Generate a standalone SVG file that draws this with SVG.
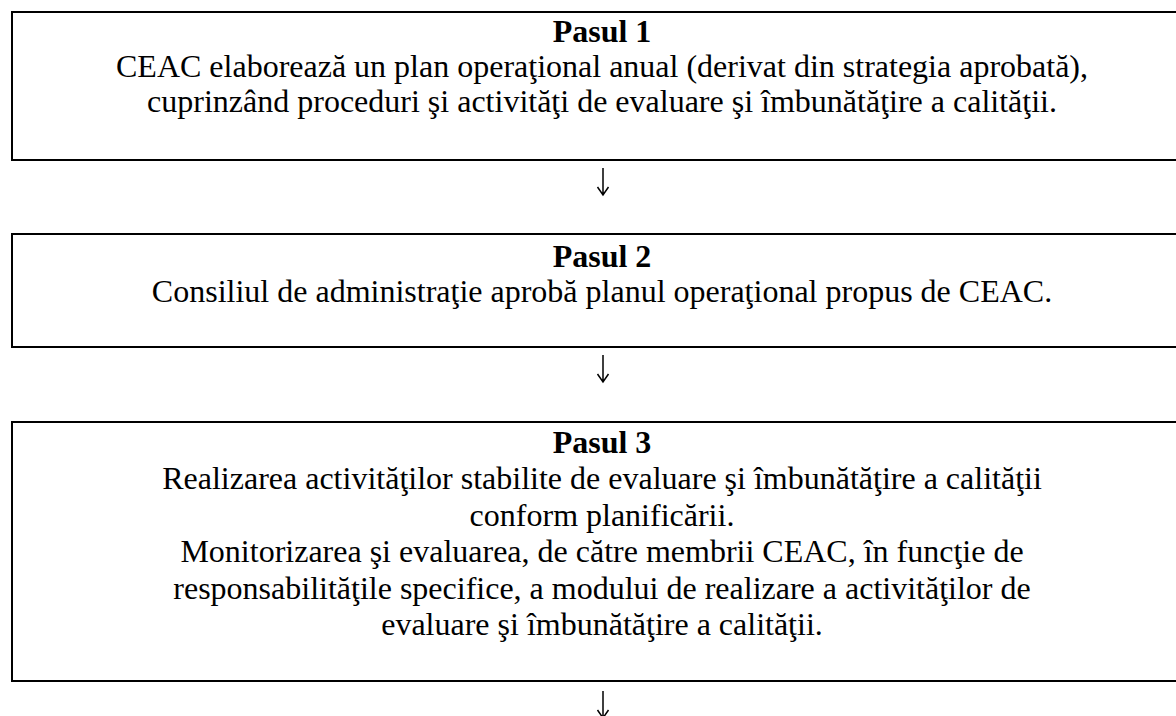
<svg xmlns="http://www.w3.org/2000/svg" width="1176" height="716" viewBox="0 0 1176 716">
<style>
.box{fill:#fff;stroke:#000;stroke-width:2}
text{font-family:"Liberation Serif","Times New Roman",serif;font-size:32px;fill:#000;text-anchor:middle}
.t{font-weight:bold}
.arr{fill:none;stroke:#000;stroke-width:1.5}
</style>
<rect width="1176" height="716" fill="#fff"/>
<g id="step1">
<rect class="box" x="12" y="12" width="1180" height="148"/>
<text class="t" x="602" y="42">Pasul 1</text>
<text x="602" y="77">CEAC elaborează un plan operaţional anual (derivat din strategia aprobată),</text>
<text x="602" y="112">cuprinzând proceduri şi activităţi de evaluare şi îmbunătăţire a calităţii.</text>
</g>
<g id="step2">
<rect class="box" x="12" y="234" width="1180" height="113"/>
<text class="t" x="602" y="267">Pasul 2</text>
<text x="602" y="302">Consiliul de administraţie aprobă planul operaţional propus de CEAC.</text>
</g>
<g id="step3">
<rect class="box" x="12" y="422" width="1180" height="259"/>
<text class="t" x="602" y="453">Pasul 3</text>
<text x="602" y="489">Realizarea activităţilor stabilite de evaluare şi îmbunătăţire a calităţii</text>
<text x="602" y="525.5">conform planificării.</text>
<text x="602" y="562">Monitorizarea şi evaluarea, de către membrii CEAC, în funcţie de</text>
<text x="602" y="598.5">responsabilităţile specifice, a modului de realizare a activităţilor de</text>
<text x="602" y="635">evaluare şi îmbunătăţire a calităţii.</text>
</g>
<g id="connectors">
<path class="arr" d="M603 168 V195 M597.5 187 L603 195 L608.5 187"/>
<path class="arr" d="M603 355 V382 M597.5 374 L603 382 L608.5 374"/>
<path class="arr" d="M603 691 V718 M597.5 710 L603 718 L608.5 710"/>
</g>
</svg>
